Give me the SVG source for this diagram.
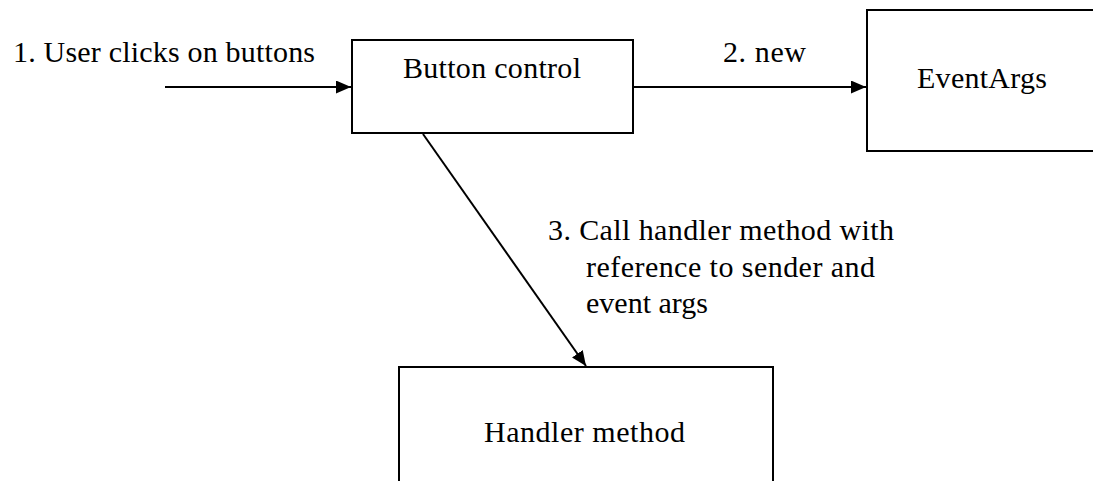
<svg xmlns="http://www.w3.org/2000/svg" width="1093" height="481" viewBox="0 0 1093 481">
<style>
.box{fill:#fff;stroke:#000;stroke-width:2}
.t{font-family:"Liberation Serif","Times New Roman",serif;font-size:30px;fill:#000}
.c{stroke:#000;stroke-width:2;fill:none}
</style>
<defs>
<marker id="ah" markerWidth="15" markerHeight="13" refX="15" refY="6.5" orient="auto" markerUnits="userSpaceOnUse" viewBox="0 0 15 13">
<path d="M0,0 L15,6.5 L0,13 z" fill="#000"/>
</marker>
</defs>
<rect width="1093" height="481" fill="#fff"/>
<g id="button-control">
<rect class="box" x="352" y="40" width="281" height="93"/>
<text class="t" x="403" y="78" textLength="178" lengthAdjust="spacing">Button control</text>
</g>
<g id="eventargs">
<rect class="box" x="867" y="10" width="240" height="141"/>
<text class="t" x="917" y="88" textLength="130" lengthAdjust="spacing">EventArgs</text>
</g>
<g id="handler-method">
<rect class="box" x="399" y="367" width="374" height="130"/>
<text class="t" x="484" y="442" textLength="201" lengthAdjust="spacing">Handler method</text>
</g>
<g id="connectors">
<line class="c" x1="165" y1="87" x2="351" y2="87" marker-end="url(#ah)"/>
<text class="t" x="13" y="62" textLength="302" lengthAdjust="spacing">1. User clicks on buttons</text>
<line class="c" x1="634" y1="87" x2="866" y2="87" marker-end="url(#ah)"/>
<text class="t" x="723" y="62" textLength="83" lengthAdjust="spacing">2. new</text>
<line class="c" x1="423" y1="134" x2="586" y2="366" marker-end="url(#ah)"/>
<text class="t" x="548" y="240" textLength="346" lengthAdjust="spacing">3. Call handler method with</text>
<text class="t" x="586" y="277" textLength="289" lengthAdjust="spacing">reference to sender and</text>
<text class="t" x="586" y="313">event args</text>
</g>
</svg>
